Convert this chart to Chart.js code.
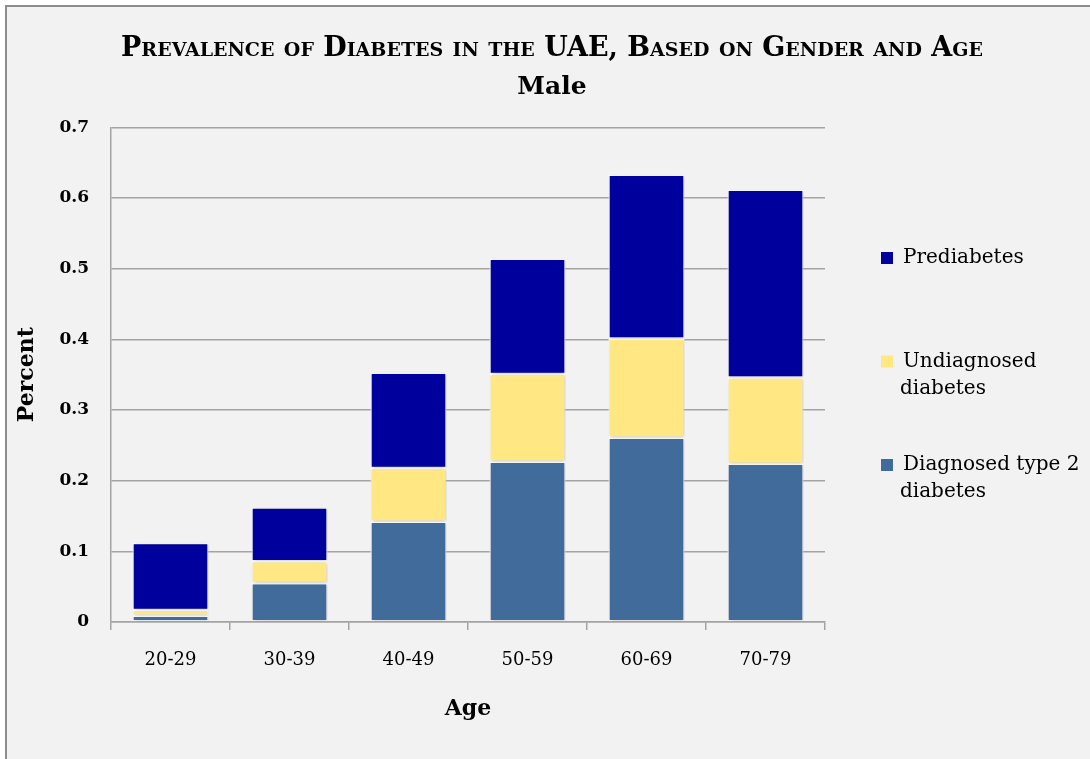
<!DOCTYPE html>
<html>
<head>
<meta charset="utf-8">
<title>Prevalence of Diabetes in the UAE - Male</title>
<script src="https://cdn.jsdelivr.net/npm/chart.js@4.4.1/dist/chart.umd.min.js"></script>
<style>
    body { margin: 0; background: #fff; overflow: hidden; }
    #frame {
        position: absolute; left: 5px; top: 5px;
        width: 1083px; height: 752px;
        background: #f2f2f2;
        border-top: 2px solid #8c8c8c;
        border-left: 2px solid #8c8c8c;
    }
    canvas { display: block; }
</style>
</head>
<body>
<div id="frame"><canvas id="myChart" width="1083" height="752"></canvas></div>
<script>
// data (share of population)
const ageGroups = ['20-29', '30-39', '40-49', '50-59', '60-69', '70-79'];
const diagnosed = [0.009, 0.055, 0.142, 0.227, 0.261, 0.224];
const undiagnosed = [0.008, 0.031, 0.076, 0.124, 0.140, 0.122];
const prediabetes = [0.095, 0.076, 0.135, 0.163, 0.232, 0.266];

const seriesNames = ['Diagnosed type 2 diabetes', 'Undiagnosed diabetes', 'Prediabetes'];
const seriesColors = ['#406b9b', '#ffe784', '#00009c'];
// legend text, wrapped the way the original shows it (top item first)
const legendLines = [['Prediabetes'], ['Undiagnosed', 'diabetes'], ['Diagnosed type 2', 'diabetes']];

const gridGray = '#a3a3a3';

// soft drop shadow under the bars
const barShadow = {
    id: 'barShadow',
    beforeDatasetsDraw(chart) {
        const ctx = chart.ctx;
        ctx.save();
        ctx.shadowColor = 'rgba(0,0,0,0.22)';
        ctx.shadowBlur = 4;
        ctx.shadowOffsetX = 1;
        ctx.shadowOffsetY = 1;
    },
    afterDatasetsDraw(chart) {
        chart.ctx.restore();
    }
};

// legend on the right with wrapped lines, spaced out like the original
const sideLegend = {
    id: 'sideLegend',
    afterDraw(chart) {
        const ctx = chart.ctx;
        const n = chart.data.datasets.length;
        ctx.save();
        ctx.font = '20px "DejaVu Serif"';
        ctx.textBaseline = 'middle';
        ctx.textAlign = 'left';
        for (let k = 0; k < n; k++) {
            const ds = chart.data.datasets[n - 1 - k];
            const y = 251 + k * 103.5;
            ctx.fillStyle = ds.backgroundColor;
            ctx.fillRect(874, y - 6, 12, 12);
            ctx.fillStyle = '#000';
            legendLines[k].forEach((line, j) => {
                ctx.fillText(line, j === 0 ? 896 : 893, y + j * 27);
            });
        }
        ctx.restore();
    }
};

const datasets = [diagnosed, undiagnosed, prediabetes].map((vals, i) => ({
    label: seriesNames[i],
    data: vals,
    backgroundColor: seriesColors[i],
    borderColor: '#ffffff',
    borderWidth: 1.3,
    borderSkipped: false,
    barPercentage: 0.64,
    categoryPercentage: 1
}));

const ctx = document.getElementById('myChart').getContext('2d');
const chart = new Chart(ctx, {
    type: 'bar',
    data: { labels: ageGroups, datasets: datasets },
    options: {
        responsive: false,
        animation: false,
        layout: { padding: { left: 7, right: 0, top: 0, bottom: 0 } },
        plugins: {
            legend: { display: false },
            tooltip: { enabled: false },
            title: {
                display: true,
                text: 'Prevalence of Diabetes in the UAE, Based on Gender and Age',
                color: '#000',
                font: { family: '"DejaVu Serif"', size: 27, weight: 'small-caps bold' },
                padding: { top: 26, bottom: 0 }
            },
            subtitle: {
                display: true,
                text: 'Male',
                color: '#000',
                font: { family: '"DejaVu Serif"', size: 25, weight: 'bold' },
                padding: { top: 7, bottom: 25 }
            }
        },
        scales: {
            x: {
                stacked: true,
                grid: { offset: true, drawOnChartArea: false, drawTicks: true, tickLength: 8, color: gridGray, lineWidth: 1.5 },
                border: { color: gridGray, width: 1.5 },
                ticks: { color: '#000', padding: 20, font: { family: '"DejaVu Serif"', size: 18 } },
                title: {
                    display: true, text: 'Age', color: '#000',
                    font: { family: '"DejaVu Serif"', size: 22, weight: 'bold' },
                    padding: { top: 25, bottom: 37 }
                },
                afterFit(scale) { scale.height = 137; }
            },
            y: {
                stacked: true,
                min: 0,
                max: 0.7,
                ticks: { stepSize: 0.1, color: '#000', padding: 22, font: { family: '"DejaVu Serif"', size: 17, weight: 'bold' } },
                grid: { color: gridGray, lineWidth: 1.5, drawTicks: false },
                border: { color: gridGray, width: 1.5 },
                title: {
                    display: true, text: 'Percent', color: '#000',
                    font: { family: '"DejaVu Serif"', size: 22, weight: 'bold' },
                    padding: { top: 0, bottom: 10 }
                },
                afterFit(scale) { scale.width = 97; }
            },
            // empty right-hand scale that only keeps room for the legend
            side: {
                position: 'right',
                display: true,
                ticks: { display: false },
                grid: { display: false },
                border: { display: false },
                afterFit(scale) { scale.width = 265; }
            }
        }
    },
    plugins: [barShadow, sideLegend]
});
</script>
</body>
</html>
